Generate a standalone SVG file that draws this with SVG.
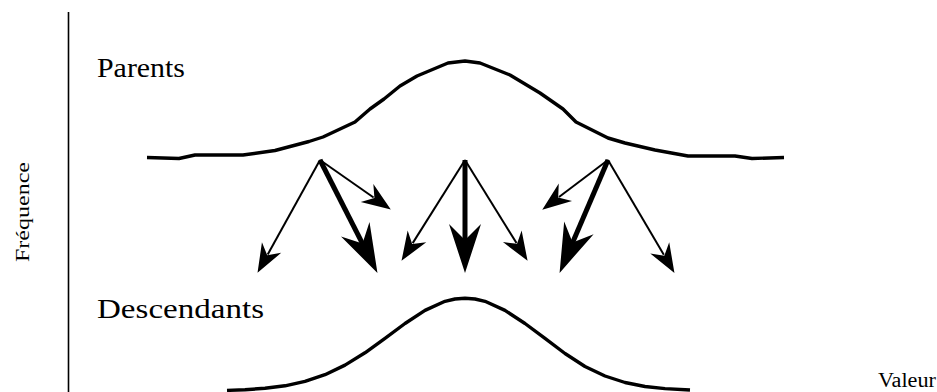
<svg xmlns="http://www.w3.org/2000/svg" width="937" height="392" viewBox="0 0 937 392">
<style>
.lbl{font-family:"Liberation Serif","Times New Roman",serif;fill:#000}
.curve{fill:none;stroke:#000;stroke-width:3.4;stroke-linejoin:round;stroke-linecap:butt}
.thin{stroke:#000;stroke-width:2;fill:none;marker-end:url(#ahThin)}
.thick{stroke:#000;stroke-width:5;fill:none;marker-end:url(#ahThick)}
</style>
<defs>
<marker id="ahThin" markerUnits="userSpaceOnUse" markerWidth="1" markerHeight="1" refX="0" refY="0" orient="auto" overflow="visible">
<path d="M21,0 L-8,-11 L1,0 L-8,11 Z" fill="#000"/>
</marker>
<marker id="ahThick" markerUnits="userSpaceOnUse" markerWidth="1" markerHeight="1" refX="0" refY="0" orient="auto" overflow="visible">
<path d="M31,0 L-18,-16 L-2,0 L-18,16 Z" fill="#000"/>
</marker>
</defs>
<rect width="937" height="392" fill="#fff"/>
<g id="axis">
<line x1="68.5" y1="12" x2="68.5" y2="392" stroke="#000" stroke-width="1.6"/>
<text class="lbl" font-size="19" text-anchor="middle" textLength="100" lengthAdjust="spacingAndGlyphs" transform="translate(29,212) rotate(-90)">Fréquence</text>
<text class="lbl" x="878" y="387" font-size="20" textLength="58" lengthAdjust="spacingAndGlyphs">Valeur</text>
</g>
<g id="parents">
<text class="lbl" x="97" y="77" font-size="27" textLength="88" lengthAdjust="spacingAndGlyphs">Parents</text>
<path class="curve" d="M147,157.5 L179,158.5 L195,155 L243,155 L275,150.5 L309,141.5 L323,137 L355,122 L370,109 L384,99 L400,86 L417,76 L448,63 L465,61 L480,63 L510,75 L540,93 L563,109 L576,122 L608,138 L625,143 L655,150 L688,156 L735,156 L752,158.5 L784,157.5"/>
</g>
<g id="descendants">
<text class="lbl" x="97" y="318" font-size="27" textLength="167" lengthAdjust="spacingAndGlyphs">Descendants</text>
<path class="curve" d="M227,390.4 L245,389.7 L265,388.3 L285,385.8 L305,381.4 L325,374.7 L345,365.1 L365,352.8 L385,338.4 L405,323.5 L425,310.4 L445,301.3 L455,299 L465,298.3 L475,299 L485,301.3 L505,310.4 L525,323.5 L545,338.4 L565,353.5 L585,366.5 L605,376 L625,382.5 L645,386.5 L665,388.6 L690,390"/>
</g>
<g id="connectors">
<line class="thin" x1="320" y1="160" x2="267.7" y2="254.5"/>
<line class="thick" x1="320" y1="160" x2="363.4" y2="245.3"/>
<line class="thin" x1="320" y1="160" x2="373.6" y2="197.5"/>
<line class="thin" x1="465" y1="160" x2="412.7" y2="243.1"/>
<line class="thick" x1="465" y1="160" x2="465" y2="242"/>
<line class="thin" x1="465" y1="160" x2="516.5" y2="243"/>
<line class="thin" x1="608" y1="160" x2="559" y2="197"/>
<line class="thick" x1="608" y1="160" x2="571.8" y2="244.4"/>
<line class="thin" x1="608" y1="160" x2="663.8" y2="254.8"/>
</g>
</svg>
